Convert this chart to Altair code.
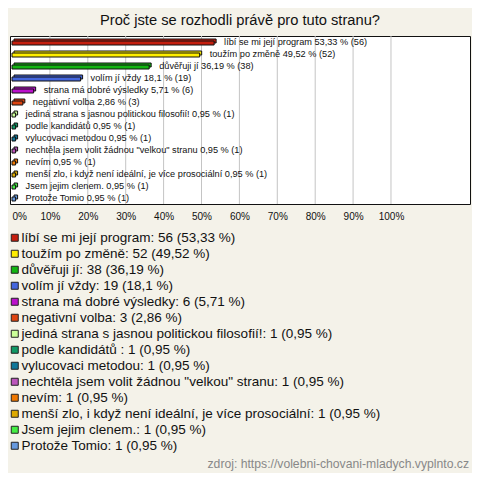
import altair as alt
import pandas as pd

title_text = "Proč jste se rozhodli právě pro tuto stranu?"
source_text = "zdroj: https://volebni-chovani-mladych.vyplnto.cz"

categories = [
    "líbí se mi její program",
    "toužím po změně",
    "důvěřuji jí",
    "volím jí vždy",
    "strana má dobré výsledky",
    "negativní volba",
    "jediná strana s jasnou politickou filosofií!",
    "podle kandidátů ",
    "vylucovaci metodou",
    "nechtěla jsem volit žádnou \"velkou\" stranu",
    "nevím",
    "menší zlo, i když není ideální, je více prosociální",
    "Jsem jejim clenem.",
    "Protože Tomio",
]
counts = [56, 52, 38, 19, 6, 3, 1, 1, 1, 1, 1, 1, 1, 1]
percents = [53.33, 49.52, 36.19, 18.1, 5.71, 2.86, 0.95, 0.95, 0.95, 0.95, 0.95, 0.95, 0.95, 0.95]
colors = [
    "#c41e0e", "#ffee00", "#12b512", "#4466dd", "#bb11cc", "#dd4411", "#ccff99",
    "#119966", "#117799", "#bb55bb", "#ee7700", "#ddaa00", "#44ee44", "#6699dd",
]
tick_values = [0, 10, 20, 30, 40, 50, 60, 70, 80, 90, 100]
grid_values = [10, 20, 30, 40, 50, 60, 70, 80, 90, 100]


def fmt(p):
    return f"{p:g}".replace(".", ",")


bar_labels = [f"{c} {fmt(p)} % ({n})" for c, p, n in zip(categories, percents, counts)]
legend_labels = [f"{c}: {n} ({fmt(p)} %)" for c, p, n in zip(categories, percents, counts)]

df = pd.DataFrame({
    "cat": categories,
    "pct": percents,
    "blabel": bar_labels,
    "legend": legend_labels,
})
grid_df = pd.DataFrame({"g": grid_values})
src_df = pd.DataFrame({"t": [source_text]})

FONT = "Liberation Sans, Arial, sans-serif"
W, H = 460, 168

xscale = alt.Scale(domain=[-0.53, 120.85], nice=False, zero=False)
yscale = alt.Scale(domain=categories, paddingInner=0, paddingOuter=0)

x_axis = alt.Axis(
    values=tick_values,
    labelExpr="datum.value + '%'",
    labelFontSize=10,
    labelFont=FONT,
    labelColor="#111",
    labelPadding=7,
    labelAlign=alt.ExprRef(expr="datum.value == 0 ? 'left' : 'center'"),
    domain=False,
    ticks=False,
    grid=False,
    title=None,
)

color = alt.Color(
    "legend:N",
    scale=alt.Scale(domain=legend_labels, range=colors),
    legend=alt.Legend(
        orient="none",
        legendX=-2,
        legendY=195,
        direction="vertical",
        columns=1,
        title=None,
        symbolType="square",
        symbolSize=49,
        symbolStrokeColor="#222",
        symbolStrokeWidth=1,
        symbolOpacity=1,
        labelFontSize=13.5,
        labelFont=FONT,
        labelColor="#111",
        labelLimit=0,
        labelOffset=0,
        rowPadding=1.0,
        padding=0,
    ),
)

base = alt.Chart(df)

grid = alt.Chart(grid_df).mark_rule(color="#c4c4c4", strokeWidth=1).encode(
    x=alt.X("g:Q", scale=xscale, axis=x_axis)
)

back = base.mark_bar(
    size=4, xOffset=2, x2Offset=2, yOffset=-1, y2Offset=-1,
    stroke="#111", strokeWidth=1, opacity=1,
).encode(
    x=alt.X("pct:Q", scale=xscale, axis=x_axis),
    y=alt.Y("cat:N", scale=yscale, axis=None, sort=categories),
    color=color,
)

front = base.mark_bar(
    size=4, yOffset=1, y2Offset=1,
    stroke="#111", strokeWidth=1, opacity=1,
).encode(
    x=alt.X("pct:Q", scale=xscale, axis=x_axis),
    y=alt.Y("cat:N", scale=yscale, axis=None, sort=categories),
    color=color,
)

labels = base.mark_text(
    align="left", baseline="middle", dx=10, fontSize=9.2, font=FONT, color="#111"
).encode(
    x=alt.X("pct:Q", scale=xscale, axis=x_axis),
    y=alt.Y("cat:N", scale=yscale, axis=None, sort=categories),
    text="blabel:N",
)

source = alt.Chart(src_df).mark_text(
    align="right", baseline="middle", fontSize=12.2, font=FONT, color="#888888"
).encode(
    x=alt.value(W - 1),
    y=alt.value(428),
    text="t:N",
)

chart = alt.layer(grid, back, front, labels, source).properties(
    width=W,
    height=H,
    title=alt.TitleParams(
        text=title_text,
        fontSize=14.7,
        font=FONT,
        fontWeight="normal",
        color="#111",
        anchor="middle",
        offset=8,
    ),
    padding={"left": 0, "top": 4, "right": 2, "bottom": 2},
    background="#f4f2e9",
).configure_view(
    fill="white", stroke="#111", strokeWidth=1
)

chart.save("out.html", embed_options={"renderer": "svg", "actions": False})
